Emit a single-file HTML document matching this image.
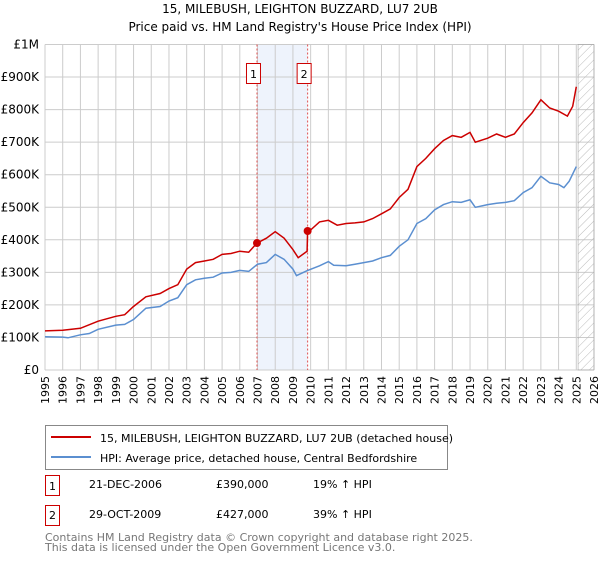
<!DOCTYPE html>
<html><head><meta charset="utf-8"><style>
body{margin:0;background:#fff;font-family:"DejaVu Sans","Liberation Sans",sans-serif;}
svg text{font-family:"DejaVu Sans","Liberation Sans",sans-serif;}
</style></head><body>
<svg width="600" height="560" xmlns="http://www.w3.org/2000/svg">
<defs><pattern id="hatch" width="6" height="6" patternUnits="userSpaceOnUse" patternTransform="rotate(45)"><line x1="0" y1="0" x2="0" y2="6" stroke="#bbb" stroke-width="1"/></pattern></defs>
<text x="300" y="13" text-anchor="middle" font-size="12">15, MILEBUSH, LEIGHTON BUZZARD, LU7 2UB</text>
<text x="300" y="31" text-anchor="middle" font-size="12">Price paid vs. HM Land Registry's House Price Index (HPI)</text>
<g id="plot"></g>
<g>
<rect x="45.5" y="425.5" width="402" height="44" fill="#fff" stroke="#888"/>
<line x1="51" y1="437" x2="91" y2="437" stroke="#cc0000" stroke-width="2"/>
<text x="100" y="442" font-size="11">15, MILEBUSH, LEIGHTON BUZZARD, LU7 2UB (detached house)</text>
<line x1="51" y1="457" x2="91" y2="457" stroke="#5b8fd0" stroke-width="2"/>
<text x="100" y="462" font-size="11">HPI: Average price, detached house, Central Bedfordshire</text>
</g>
<g font-size="11">
<rect x="45.5" y="475.5" width="14" height="20" fill="#fff" stroke="#cc0000"/><text x="52.5" y="490" text-anchor="middle">1</text>
<text x="89" y="488">21-DEC-2006</text><text x="216" y="488">£390,000</text><text x="313" y="488">19% ↑ HPI</text>
<rect x="45.5" y="505.5" width="14" height="20" fill="#fff" stroke="#cc0000"/><text x="52.5" y="519" text-anchor="middle">2</text>
<text x="89" y="518">29-OCT-2009</text><text x="216" y="518">£427,000</text><text x="313" y="518">39% ↑ HPI</text>
</g>
<text x="45" y="541" font-size="11" fill="#777">Contains HM Land Registry data © Crown copyright and database right 2025.</text>
<text x="45" y="551" font-size="11" fill="#777">This data is licensed under the Open Government Licence v3.0.</text>
</svg>
<script>
const yTicks=[0,100,200,300,400,500,600,700,800,900,1000];
const yTickLabels=["£0","£100K","£200K","£300K","£400K","£500K","£600K","£700K","£800K","£900K","£1M"];
const years=[1995,1996,1997,1998,1999,2000,2001,2002,2003,2004,2005,2006,2007,2008,2009,2010,2011,2012,2013,2014,2015,2016,2017,2018,2019,2020,2021,2022,2023,2024,2025,2026];
const hpiT=[1995,1996,1996.3,1997,1997.5,1998,1999,1999.5,2000,2000.7,2001.5,2002,2002.5,2003,2003.5,2004,2004.5,2005,2005.5,2006,2006.5,2007,2007.5,2008,2008.5,2009,2009.2,2009.8,2010.5,2011,2011.3,2012,2012.5,2013,2013.5,2014,2014.5,2015,2015.5,2016,2016.5,2017,2017.5,2018,2018.5,2019,2019.3,2020,2020.5,2021,2021.5,2022,2022.5,2023,2023.5,2024,2024.3,2024.6,2025];
const hpiV=[102,101,99,108,112,125,138,140,155,190,195,212,222,262,277,282,285,298,300,306,303,325,330,355,340,310,290,305,320,333,322,320,325,330,335,345,352,380,400,450,465,492,508,517,515,523,500,508,512,515,520,545,560,595,575,570,560,580,625];
const priceT=[1995,1996,1997,1998,1999,1999.5,2000,2000.7,2001.5,2002,2002.5,2003,2003.5,2004,2004.5,2005,2005.5,2006,2006.5,2006.97,2007.5,2008,2008.5,2009,2009.3,2009.8,2009.83,2010,2010.5,2011,2011.5,2012,2012.5,2013,2013.5,2014,2014.5,2015,2015.5,2016,2016.5,2017,2017.5,2018,2018.5,2019,2019.3,2020,2020.5,2021,2021.5,2022,2022.5,2023,2023.5,2024,2024.5,2024.8,2025];
const priceV=[120,122,128,150,165,170,195,225,235,250,262,310,330,335,340,355,358,365,362,390,405,425,405,370,345,365,427,430,455,460,445,450,452,455,465,480,495,530,555,625,650,680,705,720,715,730,700,712,725,715,725,760,790,830,805,795,780,810,870];
const saleT=[2006.97,2009.83];
const saleV=[390,427];
const saleLabels=["1","2"];
const X0=45,X1=594,Y0=370,Y1=44.5;
const xs=t=>X0+(t-1995)/(2026-1995)*(X1-X0);
const ys=v=>Y0-v/1000*(Y0-Y1);
const NS="http://www.w3.org/2000/svg";
const g=document.getElementById('plot');
function mk(tag,a){const e=document.createElementNS(NS,tag);for(const k in a)e.setAttribute(k,a[k]);g.appendChild(e);return e;}
let e;
e=mk('rect',{x:xs(2006.97),y:Y1,width:xs(2009.83)-xs(2006.97),height:Y0-Y1,fill:'#eef3fc'});


years.forEach((y,i)=>{
 const l=mk('line',{x1:xs(y),x2:xs(y),y1:Y1,y2:Y0,stroke:'#ccc'});
 
 
 const t=mk('text',{x:0,y:0,'font-size':11,'text-anchor':'end',transform:`translate(${xs(y)+4},${Y0+6}) rotate(-90)`});
 t.textContent=y;
 
 
});
yTicks.forEach((v,i)=>{
 const l=mk('line',{x1:X0,x2:X1,y1:ys(v),y2:ys(v),stroke:'#ccc'});
 
 
 const t=mk('text',{x:X0-6,y:ys(v)+4,'font-size':12,'text-anchor':'end'});
 t.textContent=yTickLabels[i];
 
 
});
e=mk('rect',{x:xs(2025.1),y:Y1,width:X1-xs(2025.1),height:Y0-Y1,fill:'url(#hatch)',stroke:'#999','stroke-width':0.5});


saleT.forEach((t,i)=>{
 const l=mk('line',{x1:xs(t),x2:xs(t),y1:Y1,y2:Y0,stroke:'#e05050','stroke-dasharray':'2,2'});
 
 
 const r=mk('rect',{x:xs(t)-10.5,y:63.5,width:14,height:20,fill:'#fff',stroke:'#cc0000'});
 
 
 const tx=mk('text',{x:xs(t)-3.5,y:78,'font-size':11,'text-anchor':'middle'});
 tx.textContent=saleLabels[i];
 
 
});
e=mk('path',{d:hpiT.map((t,i)=>(i?'L':'M')+xs(t).toFixed(1)+','+ys(hpiV[i]).toFixed(1)).join(''),fill:'none',stroke:'#5b8fd0','stroke-width':1.5});


e=mk('path',{d:priceT.map((t,i)=>(i?'L':'M')+xs(t).toFixed(1)+','+ys(priceV[i]).toFixed(1)).join(''),fill:'none',stroke:'#cc0000','stroke-width':1.5});


saleT.forEach((t,i)=>{
 const c=mk('circle',{cx:xs(t),cy:ys(saleV[i]),r:4,fill:'#cc0000'});
 
 
});
</script>
</body></html>
